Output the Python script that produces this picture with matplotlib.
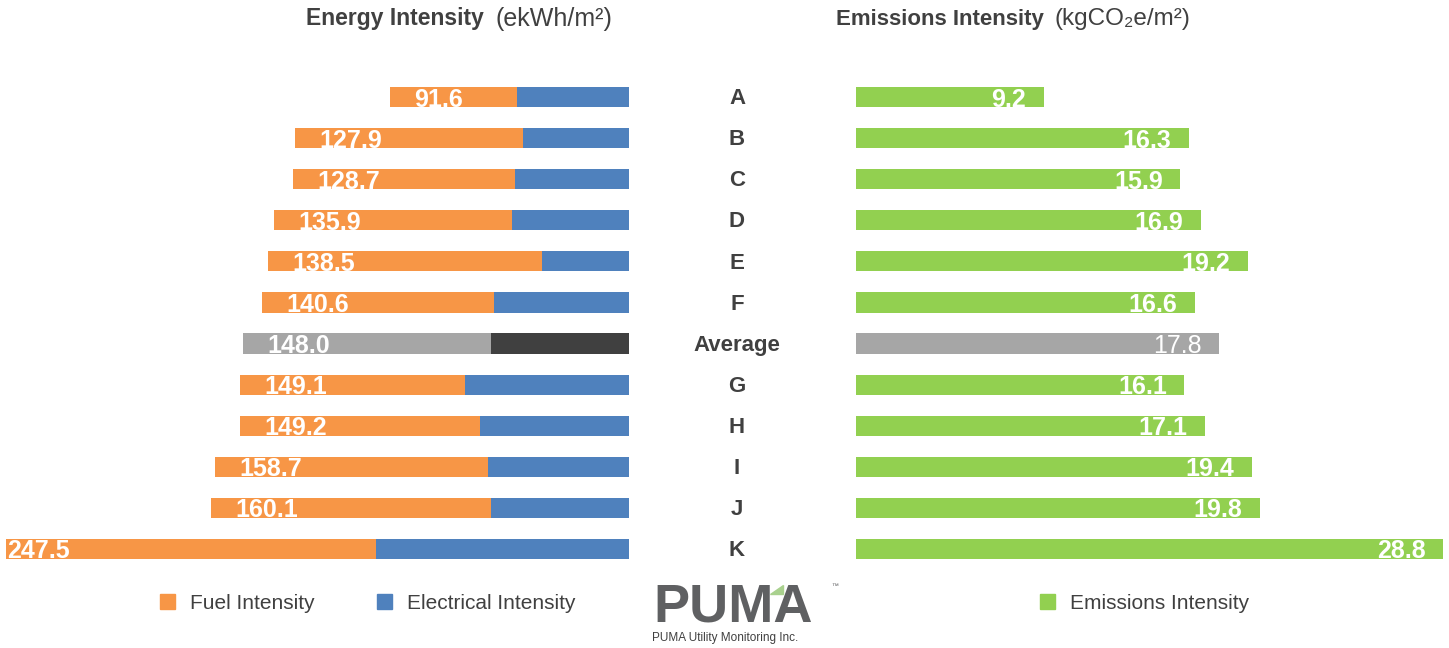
import matplotlib
matplotlib.use("Agg")
import matplotlib.pyplot as plt
from matplotlib.patches import Patch, Polygon
import matplotlib.transforms as mtrans

categories = ['A', 'B', 'C', 'D', 'E', 'F', 'Average', 'G', 'H', 'I', 'J', 'K']
energy_total = [91.6, 127.9, 128.7, 135.9, 138.5, 140.6, 148.0, 149.1, 149.2, 158.7, 160.1, 247.5]
electrical = [42.9, 40.6, 43.7, 44.8, 33.3, 51.7, 52.9, 62.8, 57.1, 54.0, 52.9, 96.9]
fuel = [48.7, 87.3, 85.0, 91.1, 105.2, 88.9, 95.1, 86.3, 92.1, 104.7, 107.2, 150.6]
emissions = [9.2, 16.3, 15.9, 16.9, 19.2, 16.6, 17.8, 16.1, 17.1, 19.4, 19.8, 28.8]

ORANGE = '#F79646'
BLUE = '#4F81BD'
GREEN = '#92D050'
GRAY = '#A6A6A6'
DARK = '#404040'
TXT = '#404040'

SANS = ['Liberation Sans', 'DejaVu Sans']

W, H = 1449, 648
fig = plt.figure(figsize=(W / 100, H / 100), dpi=100)

def ax_rect(x0, x1, y0, y1):
    return [x0 / W, 1 - y1 / H, (x1 - x0) / W, (y1 - y0) / H]

ytop, ybot = 76.5, 569.5
axL = fig.add_axes(ax_rect(6, 629, ytop, ybot))
axR = fig.add_axes(ax_rect(856, 1449, ytop, ybot))

n = len(categories)
ypos = list(range(n))
left_max = 238.7
right_max = 29.07

fuel_cols = [GRAY if c == 'Average' else ORANGE for c in categories]
elec_cols = [DARK if c == 'Average' else BLUE for c in categories]
em_cols = [GRAY if c == 'Average' else GREEN for c in categories]

bh = 0.49
axL.barh(ypos, electrical, height=bh, color=elec_cols)
axL.barh(ypos, fuel, left=electrical, height=bh, color=fuel_cols)
axL.set_xlim(left_max, 0)
axL.set_ylim(n - 0.5, -0.5)

for i, (c, t) in enumerate(zip(categories, energy_total)):
    xl = min(t - 9.4, left_max)
    axL.text(xl, i + 0.06, f'{t:.1f}', ha='left', va='center', color='white',
             fontsize=18, fontweight='bold', family=SANS, clip_on=False)

axR.barh(ypos, emissions, height=bh, color=em_cols)
axR.set_xlim(0, right_max)
axR.set_ylim(n - 0.5, -0.5)
for i, (c, v) in enumerate(zip(categories, emissions)):
    axR.text(v - 0.85, i + 0.06, f'{v:.1f}', ha='right', va='center', color='white',
             fontsize=18, fontweight='normal' if c == 'Average' else 'bold', family=SANS)

for ax in (axL, axR):
    ax.set_axis_off()

# category labels
trans = mtrans.blended_transform_factory(fig.transFigure, axL.transData)
for i, c in enumerate(categories):
    fig.text(737 / W, i + 0.04, c, transform=trans, ha='center', va='center',
             fontsize=16, fontweight='bold', color=TXT, family=SANS)

# titles
ty = 1 - 19 / H
fig.text(484 / W, ty, 'Energy Intensity', ha='right', va='center',
         fontsize=16.5, fontweight='bold', color=TXT, family=SANS)
fig.text(496 / W, ty, '(ekWh/m²)', ha='left', va='center',
         fontsize=18, color=TXT, family=SANS)
fig.text(1044 / W, ty, 'Emissions Intensity', ha='right', va='center',
         fontsize=16, fontweight='bold', color=TXT, family=SANS)
fig.text(1055 / W, ty, '(kgCO₂e/m²)', ha='left', va='center',
         fontsize=17.5, color=TXT, family=SANS)

# legends
ly = 1 - 603.5 / H
common = dict(frameon=False, handlelength=0.72, handleheight=0.72,
              handletextpad=0.72, borderpad=0, borderaxespad=0,
              prop={'family': SANS, 'size': 15})
legL = fig.legend(handles=[Patch(color=ORANGE, label='Fuel Intensity'),
                           Patch(color=BLUE, label='Electrical Intensity')],
                  loc='center left', bbox_to_anchor=(160 / W, ly), ncol=2,
                  columnspacing=3.0, **common)
for t in legL.get_texts():
    t.set_color(TXT)
legR = fig.legend(handles=[Patch(color=GREEN, label='Emissions Intensity')],
                  loc='center left', bbox_to_anchor=(1040 / W, ly), **common)
for t in legR.get_texts():
    t.set_color(TXT)

# logo
LOGO = '#5F6062'
fig.text(653 / W, 1 - 622 / H, 'PUMA', ha='left', va='baseline', fontsize=39,
         fontweight='bold', color=LOGO, family=SANS)
fig.text(831 / W, 1 - 587 / H, '™', ha='left', va='center', fontsize=5,
         color=LOGO, family=SANS)
fig.text(652 / W, 1 - 638 / H, 'PUMA Utility Monitoring Inc.', ha='left', va='center',
         fontsize=8.5, color=TXT, family=SANS)
tri = Polygon([(783 / W, 1 - 585 / H), (783 / W, 1 - 594 / H), (770 / W, 1 - 594 / H)],
              closed=True, transform=fig.transFigure, color='#A9D18E', zorder=5)
fig.add_artist(tri)

fig.savefig('out.png', dpi=100)
